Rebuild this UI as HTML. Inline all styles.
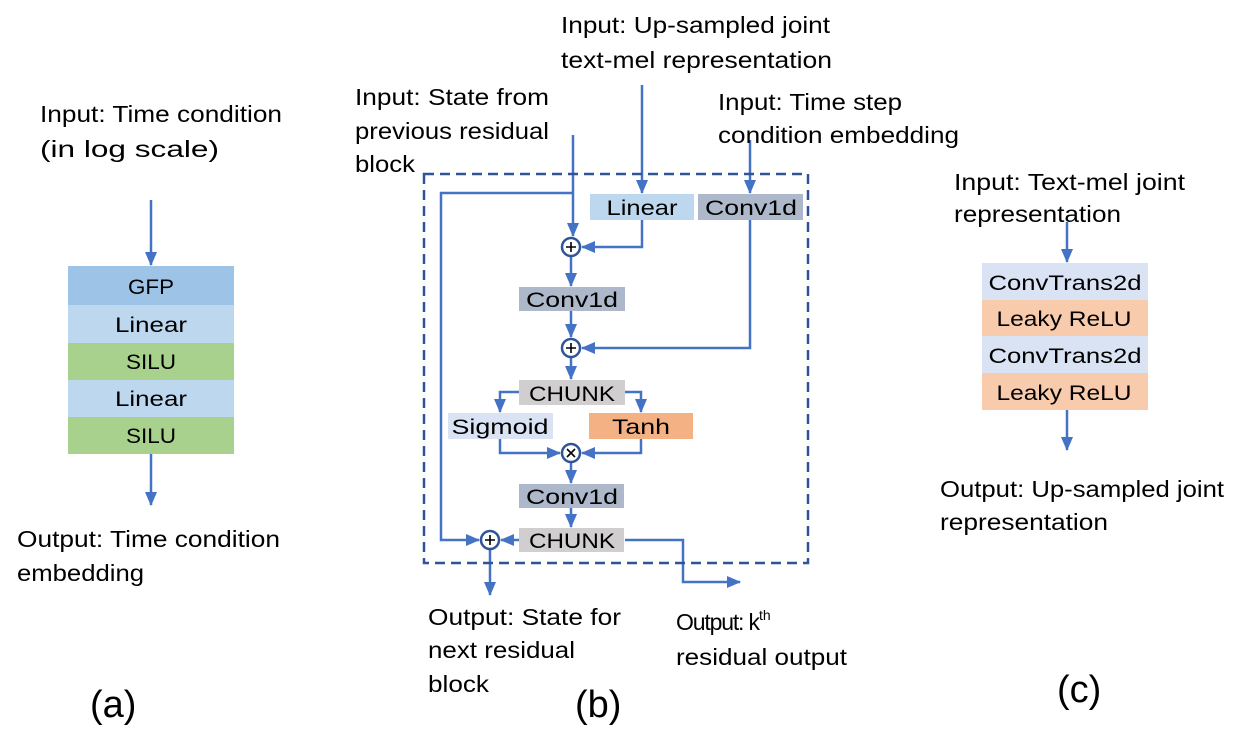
<!DOCTYPE html>
<html><head><meta charset="utf-8"><style>
html,body{margin:0;padding:0;background:#fff;}
svg{display:block;}
text{font-family:"Liberation Sans",sans-serif;font-size:23px;fill:#000;}
.b{font-size:21px;text-anchor:middle;}
.big{font-size:38px;}
.sup{font-size:14px;}
</style></head><body>
<svg width="1246" height="739" viewBox="0 0 1246 739" xmlns="http://www.w3.org/2000/svg">
<defs>
<marker id="ar" markerWidth="14" markerHeight="12" refX="13" refY="6" orient="auto" markerUnits="userSpaceOnUse">
<path d="M0,0 L14,6 L0,12 z" fill="#4472c4"/></marker>
</defs>
<g stroke="#4472c4" stroke-width="2.5" fill="none">
<line x1="151" y1="200" x2="151" y2="265" marker-end="url(#ar)"/>
<line x1="151" y1="454" x2="151" y2="505" marker-end="url(#ar)"/>
<line x1="1067" y1="222" x2="1067" y2="262" marker-end="url(#ar)"/>
<line x1="1067" y1="410" x2="1067" y2="450" marker-end="url(#ar)"/>
<polyline points="573,135 573,236" marker-end="url(#ar)"/>
<polyline points="573,193 441,193 441,540 479,540" marker-end="url(#ar)"/>
<line x1="642" y1="85" x2="642" y2="193" marker-end="url(#ar)"/>
<line x1="750" y1="140" x2="750" y2="193" marker-end="url(#ar)"/>
<polyline points="642,220 642,247 582,247" marker-end="url(#ar)"/>
<line x1="571" y1="256" x2="571" y2="286" marker-end="url(#ar)"/>
<line x1="571" y1="311" x2="571" y2="337" marker-end="url(#ar)"/>
<polyline points="750,220 750,348 582,348" marker-end="url(#ar)"/>
<line x1="571" y1="357" x2="571" y2="379" marker-end="url(#ar)"/>
<polyline points="519,392 500,392 500,412" marker-end="url(#ar)"/>
<polyline points="625,392 641,392 641,412" marker-end="url(#ar)"/>
<polyline points="500,439 500,453 560,453" marker-end="url(#ar)"/>
<polyline points="641,439 641,453 582,453" marker-end="url(#ar)"/>
<line x1="571" y1="462" x2="571" y2="483" marker-end="url(#ar)"/>
<line x1="571" y1="508" x2="571" y2="527" marker-end="url(#ar)"/>
<line x1="519" y1="540" x2="501" y2="540" marker-end="url(#ar)"/>
<line x1="490" y1="549" x2="490" y2="595" marker-end="url(#ar)"/>
<polyline points="625,540 683,540 683,582 740,582" marker-end="url(#ar)"/>
</g>
<rect x="424" y="174" width="384" height="389" fill="none" stroke="#2f5597" stroke-width="2.5" stroke-dasharray="10,6"/>
<rect x="68" y="266" width="166" height="39" fill="#9dc3e6"/>
<rect x="68" y="305" width="166" height="38" fill="#bdd7ee"/>
<rect x="68" y="343" width="166" height="37" fill="#a9d18e"/>
<rect x="68" y="380" width="166" height="37" fill="#bdd7ee"/>
<rect x="68" y="417" width="166" height="37" fill="#a9d18e"/>
<text class="b" x="151" y="294" textLength="46" lengthAdjust="spacingAndGlyphs">GFP</text>
<text class="b" x="151" y="332" textLength="72" lengthAdjust="spacingAndGlyphs">Linear</text>
<text class="b" x="151" y="369" textLength="50" lengthAdjust="spacingAndGlyphs">SILU</text>
<text class="b" x="151" y="406" textLength="72" lengthAdjust="spacingAndGlyphs">Linear</text>
<text class="b" x="151" y="443" textLength="50" lengthAdjust="spacingAndGlyphs">SILU</text>
<rect x="982" y="263" width="166" height="37" fill="#dae3f3"/>
<rect x="982" y="300" width="166" height="36" fill="#f8cbad"/>
<rect x="982" y="336" width="166" height="37" fill="#dae3f3"/>
<rect x="982" y="373" width="166" height="37" fill="#f8cbad"/>
<text class="b" x="1065" y="290" textLength="153" lengthAdjust="spacingAndGlyphs">ConvTrans2d</text>
<text class="b" x="1064" y="326" textLength="135" lengthAdjust="spacingAndGlyphs">Leaky ReLU</text>
<text class="b" x="1065" y="363" textLength="153" lengthAdjust="spacingAndGlyphs">ConvTrans2d</text>
<text class="b" x="1064" y="400" textLength="135" lengthAdjust="spacingAndGlyphs">Leaky ReLU</text>
<rect x="590" y="194" width="104" height="26" fill="#bdd7ee"/>
<rect x="698" y="194" width="105" height="26" fill="#adb9ca"/>
<rect x="519" y="287" width="106" height="24" fill="#adb9ca"/>
<rect x="519" y="380" width="106" height="25" fill="#d0cece"/>
<rect x="448" y="413" width="105" height="26" fill="#dae3f3"/>
<rect x="589" y="413" width="104" height="26" fill="#f4b183"/>
<rect x="519" y="484" width="105" height="24" fill="#adb9ca"/>
<rect x="519" y="528" width="105" height="24" fill="#d0cece"/>
<text class="b" x="642" y="215" textLength="71" lengthAdjust="spacingAndGlyphs">Linear</text>
<text class="b" x="751" y="215" textLength="92" lengthAdjust="spacingAndGlyphs">Conv1d</text>
<text class="b" x="572" y="307" textLength="92" lengthAdjust="spacingAndGlyphs">Conv1d</text>
<text class="b" x="572" y="401" textLength="86" lengthAdjust="spacingAndGlyphs">CHUNK</text>
<text class="b" x="500" y="434" textLength="97" lengthAdjust="spacingAndGlyphs">Sigmoid</text>
<text class="b" x="641" y="434" textLength="58" lengthAdjust="spacingAndGlyphs">Tanh</text>
<text class="b" x="572" y="504" textLength="92" lengthAdjust="spacingAndGlyphs">Conv1d</text>
<text class="b" x="572" y="548" textLength="86" lengthAdjust="spacingAndGlyphs">CHUNK</text>
<g fill="#fff" stroke="#2f5597" stroke-width="2.5">
<circle cx="571" cy="247" r="9"/><circle cx="571" cy="348" r="9"/>
<circle cx="571" cy="453" r="9"/><circle cx="490" cy="540" r="9"/>
</g>
<g stroke="#000" stroke-width="1.6">
<path d="M566,247h10M571,242v10"/><path d="M566,348h10M571,343v10"/>
<path d="M567,449l8,8M575,449l-8,8"/><path d="M485,540h10M490,535v10"/>
</g>
<text x="40" y="122" textLength="242" lengthAdjust="spacingAndGlyphs">Input: Time condition</text>
<text x="40" y="157" textLength="179" lengthAdjust="spacingAndGlyphs">(in log scale)</text>
<text x="17" y="547" textLength="263" lengthAdjust="spacingAndGlyphs">Output: Time condition</text>
<text x="17" y="581" textLength="127" lengthAdjust="spacingAndGlyphs">embedding</text>
<text x="561" y="33" textLength="269" lengthAdjust="spacingAndGlyphs">Input: Up-sampled joint</text>
<text x="561" y="68" textLength="271" lengthAdjust="spacingAndGlyphs">text-mel representation</text>
<text x="355" y="105" textLength="194" lengthAdjust="spacingAndGlyphs">Input: State from</text>
<text x="355" y="139" textLength="194" lengthAdjust="spacingAndGlyphs">previous residual</text>
<text x="355" y="172" textLength="60" lengthAdjust="spacingAndGlyphs">block</text>
<text x="718" y="110" textLength="184" lengthAdjust="spacingAndGlyphs">Input: Time step</text>
<text x="718" y="143" textLength="241" lengthAdjust="spacingAndGlyphs">condition embedding</text>
<text x="428" y="625" textLength="193" lengthAdjust="spacingAndGlyphs">Output: State for</text>
<text x="428" y="658" textLength="147" lengthAdjust="spacingAndGlyphs">next residual</text>
<text x="428" y="692" textLength="61" lengthAdjust="spacingAndGlyphs">block</text>
<text x="676" y="630" textLength="84" lengthAdjust="spacing">Output: k</text>
<text class="sup" x="759" y="620">th</text>
<text x="676" y="665" textLength="171" lengthAdjust="spacingAndGlyphs">residual output</text>
<text x="954" y="190" textLength="231" lengthAdjust="spacingAndGlyphs">Input: Text-mel joint</text>
<text x="954" y="222" textLength="167" lengthAdjust="spacingAndGlyphs">representation</text>
<text x="940" y="497" textLength="284" lengthAdjust="spacingAndGlyphs">Output: Up-sampled joint</text>
<text x="940" y="530" textLength="168" lengthAdjust="spacingAndGlyphs">representation</text>
<text class="big" x="90" y="717">(a)</text>
<text class="big" x="575" y="717">(b)</text>
<text class="big" x="1057" y="702">(c)</text>
</svg>
</body></html>
